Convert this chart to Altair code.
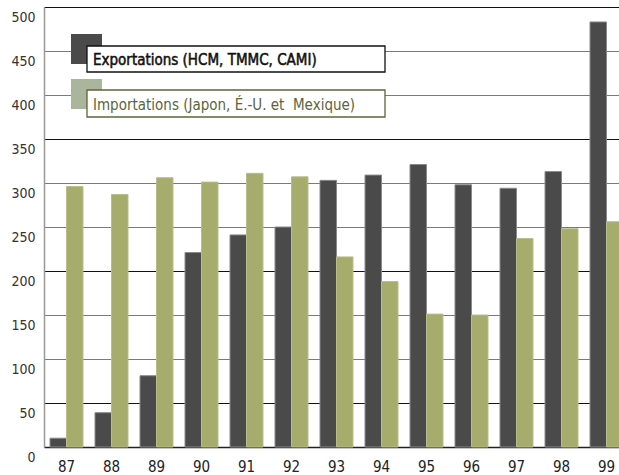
import altair as alt
import pandas as pd

years = ["87", "88", "89", "90", "91", "92", "93", "94", "95", "96", "97", "98", "99"]
exports = [10, 39, 81, 221, 241, 250, 303, 309, 321, 298, 294, 313, 483]
imports = [296, 287, 306, 301, 311, 307, 216, 188, 151, 150, 237, 248, 256]
series = ["Exportations (HCM, TMMC, CAMI)", "Importations (Japon, É.-U. et\u00a0 Mexique)"]
y_ticks = [0, 50, 100, 150, 200, 250, 300, 350, 400, 450, 500]

rows = []
for i, yr in enumerate(years):
    rows.append({"year": yr, "series": series[0], "value": exports[i]})
    rows.append({"year": yr, "series": series[1], "value": imports[i]})
df = pd.DataFrame(rows)

FONT = "'DejaVu Sans Condensed', 'Liberation Sans Narrow', 'Roboto Condensed', sans-serif"
DARK = "#4a4a4a"
GREEN = "#a6ad6c"
LEG_GREEN = "#abb59b"
OLIVE = "#5b653a"

bars = alt.Chart(df).mark_bar(strokeWidth=1).encode(
    x=alt.X("year:N", sort=years, title=None,
            scale=alt.Scale(range=[0, 585], paddingInner=0, paddingOuter=0),
            axis=alt.Axis(labelAngle=0, tickSize=0, labelPadding=12, domainColor="#222",
                          domainWidth=1.5, labelFont=FONT, labelFontSize=15,
                          labelColor="#222", grid=False)),
    xOffset=alt.XOffset("series:N", sort=series,
                        scale=alt.Scale(paddingInner=0, paddingOuter=0.364)),
    y=alt.Y("value:Q", title=None,
            scale=alt.Scale(domain=[0, 500], nice=False),
            axis=alt.Axis(values=y_ticks, tickSize=0, labelPadding=9, domainColor="#999",
                          domainWidth=1.5, labelFont=FONT, labelFontSize=14,
                          labelColor="#333", labelBaseline="top", labelOffset=3,
                          grid=True, gridWidth=1.2,
                          gridColor={"condition": {"test": "datum.value % 150 == 50", "value": "#111"},
                                     "value": "#7a7a7a"})),
    color=alt.Color("series:N", scale=alt.Scale(domain=series, range=[DARK, GREEN]), legend=None),
    stroke=alt.Stroke("series:N", scale=alt.Scale(domain=series, range=["#8a8a8a", "#b8bd8a"]), legend=None),
)

leg1 = pd.DataFrame({"label": [series[0]]})
leg2 = pd.DataFrame({"label": [series[1]]})

sq1 = alt.Chart(leg1).mark_rect(color=DARK).encode(
    x=alt.value(27), x2=alt.value(58), y=alt.value(27), y2=alt.value(57))
box1 = alt.Chart(leg1).mark_rect(fill="white", stroke="#111", strokeWidth=1.3).encode(
    x=alt.value(43), x2=alt.value(341), y=alt.value(39), y2=alt.value(65))
txt1 = alt.Chart(leg1).mark_text(align="left", baseline="alphabetic", font=FONT,
                                 fontSize=15, color="#111", stroke="#111",
                                 strokeWidth=0.5).encode(
    x=alt.value(49), y=alt.value(58), text="label:N")

sq2 = alt.Chart(leg2).mark_rect(color=LEG_GREEN).encode(
    x=alt.value(27), x2=alt.value(58), y=alt.value(72), y2=alt.value(102))
box2 = alt.Chart(leg2).mark_rect(fill="white", stroke=OLIVE, strokeWidth=1.3).encode(
    x=alt.value(43), x2=alt.value(341), y=alt.value(83), y2=alt.value(110))
txt2 = alt.Chart(leg2).mark_text(align="left", baseline="alphabetic", font=FONT,
                                 fontSize=15, color=OLIVE).encode(
    x=alt.value(49), y=alt.value(103), text="label:N")

chart = alt.layer(bars, sq1, box1, txt1, sq2, box2, txt2).properties(
    width=575, height=440,
    autosize=alt.AutoSizeParams(type="none"),
    padding={"left": 44, "top": 7, "right": 0, "bottom": 28},
    background="white",
).configure_view(stroke=None)

chart.save("out.html", embed_options={"renderer": "svg", "actions": False})
